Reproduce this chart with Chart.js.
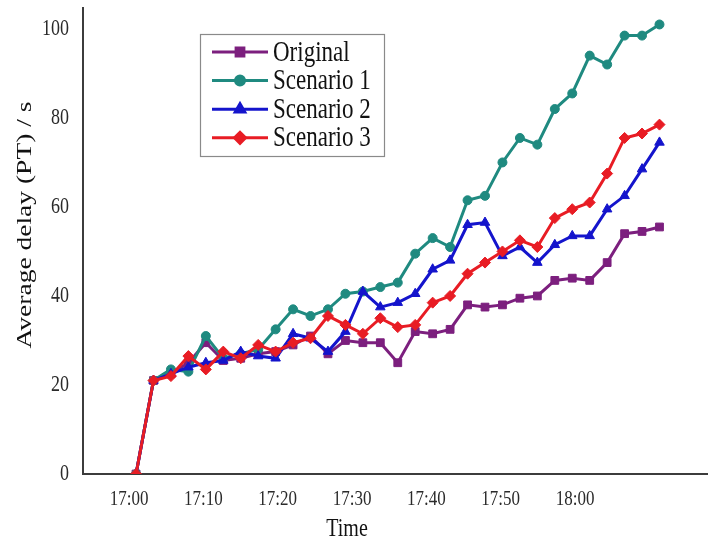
<!DOCTYPE html>
<html>
<head>
<meta charset="utf-8">
<script src="https://cdn.jsdelivr.net/npm/chart.js@4/dist/chart.umd.min.js"></script>
<style>
  html, body { margin: 0; padding: 0; background: #fff; }
  #wrap { width: 708px; height: 544px; }
</style>
</head>
<body>
<div id="wrap"><canvas id="delayChart" width="708" height="544"></canvas></div>
<script>
// values, one sample every 2 minutes
const original  = [0, 21, 22.5, 25, 29.5, 25.5, 26, 27, 27.5, 29, 31, 27, 30, 29.5, 29.5, 25, 32, 31.5, 32.5, 38, 37.5, 38, 39.5, 40, 43.5, 44, 43.5, 47.5, 54, 54.5, 55.5];
const scenario1 = [0, 21, 23.5, 23, 31, 26, 27, 28, 32.5, 37, 35.5, 37, 40.5, 41, 42, 43, 49.5, 53, 51, 61.5, 62.5, 70, 75.5, 74, 82, 85.5, 94, 92, 98.5, 98.5, 101];
const scenario2 = [0, 21, 22.5, 24, 25, 25.5, 27.5, 26.5, 26, 31.5, 30.5, 27.5, 32, 41, 37.5, 38.5, 40.5, 46, 48, 56, 56.5, 49, 51, 47.5, 51.5, 53.5, 53.5, 59.5, 62.5, 68.5, 74.5];
const scenario3 = [0, 21, 22, 26.5, 23.5, 27.5, 26, 29, 27.5, 29.5, 30.5, 35.5, 33.5, 31.5, 35, 33, 33.5, 38.5, 40, 45, 47.5, 50, 52.5, 51, 57.5, 59.5, 61, 67.5, 75.5, 76.5, 78.5];

const seriesNames = ['Original', 'Scenario 1', 'Scenario 2', 'Scenario 3'];
const xTickLabels = ['17:00', '17:10', '17:20', '17:30', '17:40', '17:50', '18:00'];
const yTickValues = [0, 20, 40, 60, 80, 100];

const sampleIdx = original.map((_, i) => i);

// layout of the original figure (its time labels sit a little off the samples)
const X_TICK_START = -0.4;
const X_TICK_STEP = 4.26;
const TEXT_STRETCH = 1.25;
const FONT = '"Liberation Serif", "DejaVu Serif", serif';

function stretchedText(ctx, text, x, y, align, size, rotate) {
  ctx.save();
  ctx.translate(x, y);
  if (rotate) {
    ctx.rotate(-Math.PI / 2);
    ctx.scale(TEXT_STRETCH, 1);
  } else {
    ctx.scale(1, TEXT_STRETCH);
  }
  ctx.font = `${size}px ${FONT}`;
  ctx.textAlign = align;
  ctx.textBaseline = 'middle';
  ctx.fillText(text, 0, 0);
  ctx.restore();
}

const labelsPlugin = {
  id: 'labels',
  afterDraw(chart) {
    const ctx = chart.ctx;
    const xs = chart.scales.x, ys = chart.scales.y;
    ctx.fillStyle = '#2a2a2a';
    xs.ticks.forEach((t, k) => {
      stretchedText(ctx, xTickLabels[k], xs.getPixelForValue(t.value), 499, 'center', 17);
    });
    ys.ticks.forEach((t) => {
      stretchedText(ctx, String(t.value), 69, ys.getPixelForValue(t.value), 'right', 18);
    });
    ctx.fillStyle = '#111';
    stretchedText(ctx, 'Time', 347, 529, 'center', 20);
    stretchedText(ctx, 'Average delay (PT) / s', 25, 225, 'center', 22, true);
  },
};

const legendPlugin = {
  id: 'boxLegend',
  afterDraw(chart) {
    const ctx = chart.ctx;
    ctx.save();
    ctx.strokeStyle = '#8a8a8a';
    ctx.lineWidth = 1.2;
    ctx.strokeRect(200.5, 34.5, 184, 122);
    chart.data.datasets.forEach((ds, i) => {
      const y = 52 + i * 28.6;
      ctx.strokeStyle = ds.borderColor;
      ctx.fillStyle = ds.borderColor;
      ctx.lineWidth = 3;
      ctx.beginPath();
      ctx.moveTo(212, y);
      ctx.lineTo(268, y);
      ctx.stroke();
      Chart.helpers.drawPoint(ctx, { pointStyle: ds.pointStyle, radius: ds.pointRadius, rotation: 0, borderWidth: 1 }, 240, y);
      ctx.fillStyle = '#111';
      stretchedText(ctx, ds.label, 273, y + 1, 'left', 23);
    });
    ctx.restore();
  },
};

function makeSet(label, data, color, style, radius, order) {
  return {
    label, data,
    borderColor: color,
    backgroundColor: color,
    pointBackgroundColor: color,
    pointBorderColor: color,
    pointStyle: style,
    pointRadius: radius,
    pointBorderWidth: 1,
    borderWidth: 3,
    tension: 0,
    order,
  };
}

new Chart(document.getElementById('delayChart'), {
  type: 'line',
  data: {
    labels: sampleIdx,
    datasets: [
      makeSet(seriesNames[0], original, '#7c1f7e', 'rect', 5.5, 3),
      makeSet(seriesNames[1], scenario1, '#1f8a80', 'circle', 4.5, 2),
      makeSet(seriesNames[2], scenario2, '#1414cc', 'triangle', 5.5, 1),
      makeSet(seriesNames[3], scenario3, '#e81c24', 'rectRot', 5.5, 0),
    ],
  },
  options: {
    responsive: false,
    animation: false,
    events: [],
    layout: { autoPadding: false, padding: { top: 8, right: 0, bottom: 0, left: 0 } },
    plugins: { legend: { display: false }, tooltip: { enabled: false } },
    scales: {
      x: {
        type: 'linear',
        min: -3.04,
        max: 32.78,
        grid: { display: false },
        border: { display: true, color: '#3c3c3c', width: 2 },
        ticks: { display: false },
        afterBuildTicks: (axis) => {
          axis.ticks = xTickLabels.map((_, k) => ({ value: X_TICK_START + k * X_TICK_STEP }));
        },
        afterFit: (axis) => { axis.height = 70; },
      },
      y: {
        min: 0,
        max: 104.7,
        grid: { display: false },
        border: { display: true, color: '#3c3c3c', width: 2 },
        ticks: { display: false },
        afterBuildTicks: (axis) => {
          axis.ticks = yTickValues.map(v => ({ value: v }));
        },
        afterFit: (axis) => { axis.width = 83; },
      },
    },
  },
  plugins: [labelsPlugin, legendPlugin],
});
</script>
</body>
</html>
